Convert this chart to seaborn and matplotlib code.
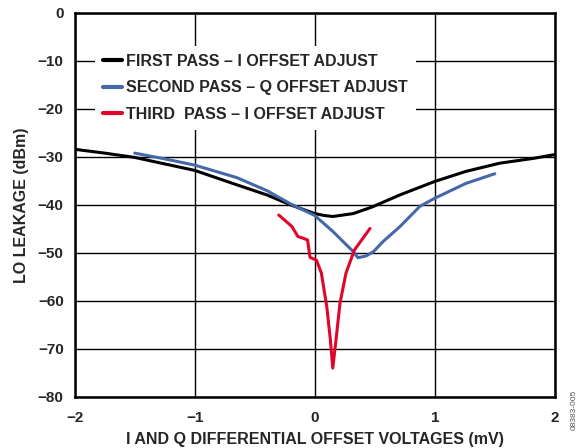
import pandas as pd
import matplotlib
matplotlib.use('Agg')
import matplotlib.pyplot as plt
import seaborn as sns

# (x in mV, y in dBm)
first_x = [-2.0, -1.75, -1.5, -1.0, -0.65, -0.4, -0.2, 0.0, 0.08, 0.15, 0.32, 0.48, 0.71, 1.0, 1.26, 1.54, 1.82, 2.0]
first_y = [-28.4, -29.2, -30.1, -32.8, -35.8, -37.9, -40.0, -41.8, -42.2, -42.4, -41.8, -40.4, -37.9, -35.1, -33.0, -31.3, -30.3, -29.5]

second_x = [-1.5, -1.25, -1.0, -0.65, -0.4, -0.2, 0.0, 0.15, 0.32, 0.36, 0.43, 0.49, 0.57, 0.71, 0.875, 1.0, 1.26, 1.5]
second_y = [-29.2, -30.4, -31.7, -34.3, -37.0, -39.8, -42.2, -45.5, -49.7, -51.0, -50.6, -49.7, -47.6, -44.5, -40.3, -38.6, -35.5, -33.5]

third_x = [-0.3, -0.19, -0.14, -0.1, -0.06, -0.04, 0.014, 0.055, 0.1, 0.13, 0.15, 0.18, 0.21, 0.26, 0.33, 0.46]
third_y = [-42.1, -44.5, -46.6, -46.9, -47.3, -50.9, -51.5, -54.2, -61.2, -68.1, -74.0, -67.4, -60.5, -54.2, -49.4, -44.9]

labels = ['FIRST PASS – I OFFSET ADJUST',
          'SECOND PASS – Q OFFSET ADJUST',
          'THIRD  PASS – I OFFSET ADJUST']
colors = ['#000000', '#4468a8', '#e0062a']

x_ticks = [-2, -1, 0, 1, 2]
y_ticks = [0, -10, -20, -30, -40, -50, -60, -70, -80]

sns.set_style('white')
plt.rcParams['font.family'] = ['Liberation Sans', 'DejaVu Sans']
plt.rcParams['font.weight'] = 'bold'

fig = plt.figure(figsize=(5.84, 4.48), dpi=100)
ax = fig.add_axes([0.128, 0.114, 0.822, 0.857])

series = [(first_x, first_y), (second_x, second_y), (third_x, third_y)]
for (xs, ys), lab, col in zip(series, labels, colors):
    df = pd.DataFrame({'x': xs, 'y': ys})
    sns.lineplot(data=df, x='x', y='y', ax=ax, color=col, linewidth=2.2,
                 label=lab, sort=False, estimator=None)

ax.set_xlim(-2, 2)
ax.set_ylim(-80, 0)
ax.set_xticks(x_ticks)
ax.set_yticks(y_ticks)
ax.grid(True, color='black', linewidth=1.0)
ax.set_axisbelow(True)
for s in ax.spines.values():
    s.set_color('black')
    s.set_linewidth(1.8)
ax.tick_params(length=0, labelsize=11, pad=8)
ax.tick_params(axis='x', pad=10)

ax.set_xlabel('I AND Q DIFFERENTIAL OFFSET VOLTAGES (mV)', fontsize=11.5, fontweight='bold', labelpad=5)
ax.set_ylabel('LO LEAKAGE (dBm)', fontsize=11.5, fontweight='bold', labelpad=6)

leg = ax.legend(loc='upper left', bbox_to_anchor=(0.042, 0.915), frameon=True,
                fontsize=11.5, handlelength=1.2, handletextpad=0.25,
                labelspacing=0.72, borderpad=0.5, borderaxespad=0)
leg.get_frame().set_facecolor('white')
leg.get_frame().set_edgecolor('none')
leg.get_frame().set_alpha(1)
for line in leg.get_lines():
    line.set_linewidth(3)

fig.text(0.983, 0.04, '08383-005', rotation=90, fontsize=6, color='#555555',
         fontweight='normal', ha='center', va='bottom')

fig.savefig('out.png', dpi=100)
